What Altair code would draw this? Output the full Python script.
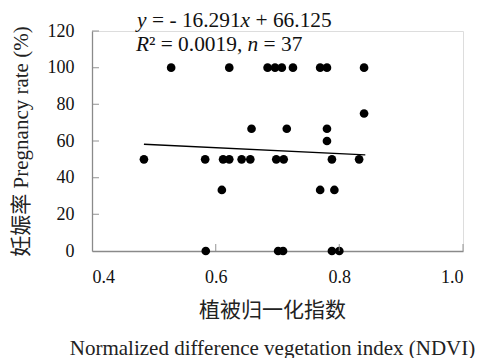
import altair as alt
import pandas as pd

# NDVI (x) and pregnancy rate % (y)
ndvi = [0.528, 0.622, 0.684, 0.696, 0.707, 0.725, 0.769, 0.780, 0.840,
        0.840,
        0.658, 0.715, 0.780,
        0.780,
        0.484, 0.583, 0.612, 0.622, 0.642, 0.656, 0.698, 0.710, 0.788, 0.832,
        0.610, 0.769, 0.792,
        0.584, 0.701, 0.709, 0.788, 0.800]
rate = [100, 100, 100, 100, 100, 100, 100, 100, 100,
        75,
        66.7, 66.7, 66.7,
        60,
        50, 50, 50, 50, 50, 50, 50, 50, 50, 50,
        33.3, 33.3, 33.3,
        0, 0, 0, 0, 0]

# reported regression: y = -16.291x + 66.125
slope = -16.291
intercept = 66.125
line_x = [0.484, 0.842]

x_ticks = [0.4, 0.6, 0.8, 1.0]
y_ticks = [0, 20, 40, 60, 80, 100, 120]
x_inner_ticks = [0.6, 0.8, 1.0]
y_inner_ticks = [20, 40, 60, 80, 100, 120]

pts = pd.DataFrame({"ndvi": ndvi, "rate": rate})
line_df = pd.DataFrame({"ndvi": line_x, "rate": [slope * v + intercept for v in line_x]})

SERIF = "'Liberation Serif', 'Times New Roman', serif"
FONT = "'Liberation Serif', 'Noto Sans CJK SC', serif"
AXIS_GRAY = "#8a8a8a"

xscale = alt.Scale(domain=[0.4, 1.0], nice=False, zero=False)
yscale = alt.Scale(domain=[0, 120], nice=False)

xaxis = alt.Axis(values=x_ticks, format=".1f", ticks=False, grid=False, labelOverlap=False,
                 domainColor=AXIS_GRAY, domainWidth=1.3,
                 labelFont=SERIF, labelFontSize=18, labelColor="#111",
                 labelPadding=17,
                 title=["植被归一化指数", "Normalized difference vegetation index (NDVI)"],
                 titleFont=FONT, titleFontSize=21, titleFontWeight="normal",
                 titleColor="#222", titleLineHeight=38, titlePadding=13,
                 titleX=180, titleAnchor="start", titleAlign="center")
yaxis = alt.Axis(values=y_ticks, ticks=False, grid=False, labelOverlap=False,
                 domainColor=AXIS_GRAY, domainWidth=1.3,
                 labelFont=SERIF, labelFontSize=18, labelColor="#111",
                 labelPadding=18,
                 title="妊娠率 Pregnancy rate (%)",
                 titleFont=FONT, titleFontSize=21, titleFontWeight="normal",
                 titleColor="#222", titlePadding=16)

points = alt.Chart(pts).mark_circle(size=75, color="black", opacity=1).encode(
    x=alt.X("ndvi:Q", scale=xscale, axis=xaxis),
    y=alt.Y("rate:Q", scale=yscale, axis=yaxis),
)

reg = alt.Chart(line_df).mark_line(color="black", strokeWidth=1.3).encode(
    x=alt.X("ndvi:Q", scale=xscale, axis=xaxis),
    y=alt.Y("rate:Q", scale=yscale, axis=yaxis),
)

ytk = alt.Chart(pd.DataFrame({"v": y_inner_ticks})).mark_tick(
    orient="horizontal", size=7, thickness=1.3, color=AXIS_GRAY).encode(
    y=alt.Y("v:Q", scale=yscale, axis=yaxis), x=alt.value(3.5))
xtk = alt.Chart(pd.DataFrame({"v": x_inner_ticks})).mark_tick(
    orient="vertical", size=7, thickness=1.3, color=AXIS_GRAY).encode(
    x=alt.X("v:Q", scale=xscale, axis=xaxis), y=alt.value(220 - 3.5))


def seg(txt, px, py, italic=False):
    return alt.Chart(alt.Data(values=[{"a": 1}])).mark_text(
        text=txt, align="left", baseline="alphabetic", font=SERIF,
        fontSize=21.4, fontStyle="italic" if italic else "normal", color="#111"
    ).encode(x=alt.value(px), y=alt.value(py))


ann = [
    seg("y", 45, -4.5, True), seg("= - 16.291", 60, -4.5),
    seg("x", 148.5, -4.5, True), seg("+ 66.125", 163.5, -4.5),
    seg("R", 44, 19.5, True), seg("²", 57, 19.5), seg("= 0.0019,", 68.7, 19.5),
    seg("n", 155.6, 19.5, True), seg("= 37", 171.6, 19.5),
]

chart = alt.layer(points, reg, ytk, xtk, *ann).properties(
    width=371, height=220,
    autosize=alt.AutoSizeParams(type="none"),
    padding={"left": 92, "top": 31, "right": 16, "bottom": 107},
).configure_view(stroke=None).configure_axis(
    labelFont=SERIF, titleFont=FONT
).configure(background="white")

chart.save("out.html", embed_options={"renderer": "svg", "actions": False})
